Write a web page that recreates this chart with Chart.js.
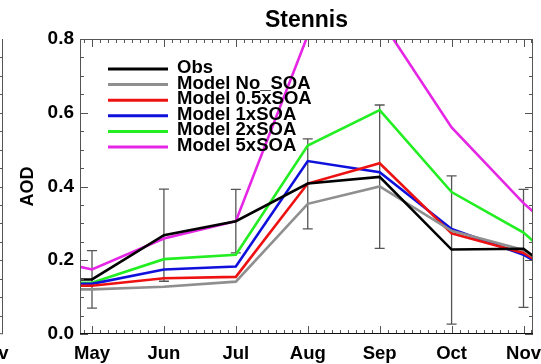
<!DOCTYPE html>
<html>
<head>
<meta charset="utf-8">
<title>Stennis AOD</title>
<script src="https://cdn.jsdelivr.net/npm/chart.js@4.4.1/dist/chart.umd.min.js"></script>
<style>
  html, body { margin: 0; padding: 0; background: #fff; overflow: hidden; }
  canvas { display: block; }
</style>
</head>
<body>
<canvas id="aodChart" width="541" height="364"></canvas>
<script>
(function () {
    "use strict";

    // ---- Data (monthly AOD, Apr..Dec; Apr/Dec only show as clipped stubs) ----
    const months      = [4, 5, 6, 7, 8, 9, 10, 11, 12];
    const monthNames  = ["Apr", "May", "Jun", "Jul", "Aug", "Sep", "Oct", "Nov", "Dec"];
    const monthTicks  = [5, 6, 7, 8, 9, 10, 11];

    const obs     = [0.148, 0.148, 0.268, 0.306, 0.408, 0.426, 0.229, 0.231, 0.087];
    const obsHigh = [null,  0.226, 0.393, 0.392, 0.529, 0.621, 0.429, 0.392, null];
    const obsLow  = [null,  0.070, 0.143, 0.220, 0.285, 0.232, 0.027, 0.072, null];

    const noSoa   = [0.121, 0.121, 0.128, 0.142, 0.353, 0.400, 0.280, 0.228, 0.092];
    const soaHalf = [0.131, 0.131, 0.151, 0.155, 0.408, 0.463, 0.273, 0.220, 0.106];
    const soa1x   = [0.136, 0.136, 0.175, 0.183, 0.469, 0.439, 0.285, 0.215, 0.100];
    const soa2x   = [0.139, 0.139, 0.203, 0.215, 0.511, 0.607, 0.385, 0.275, 0.100];
    const soa5x   = [0.217, 0.175, 0.259, 0.306, 0.810, 0.856, 0.560, 0.355, 0.180];

    const yMajor = [0, 0.2, 0.4, 0.6, 0.8];

    // ---- Colours ----
    const COLORS = {
        obs:   "#000000",
        none:  "#8f8f8f",
        half:  "#ee1111",
        one:   "#1010dd",
        two:   "#22ee22",
        five:  "#e526e5",
        frame: "#555555",
        axis:  "#111111",
        err:   "#555555",
    };

    const FONT = "'Liberation Sans', Arial, Helvetica, sans-serif";
    const TICK_SIZE = 18.5;
    const X_PAD = 8.7;

    function series(values) {
        return values.map((v, i) => ({ x: months[i], y: v }));
    }

    function line(label, values, color) {
        return {
            label: label,
            data: series(values),
            borderColor: color,
            backgroundColor: color,
            borderWidth: 2.6,
            pointRadius: 0,
            tension: 0,
            clip: 0,
        };
    }

    // error bars on the observations, drawn under the model lines
    const errorBars = {
        id: "errorBars",
        beforeDatasetsDraw(chart) {
            const { ctx, chartArea, scales: { x, y } } = chart;
            ctx.save();
            ctx.beginPath();
            ctx.rect(chartArea.left, chartArea.top, chartArea.width, chartArea.height);
            ctx.clip();
            ctx.strokeStyle = COLORS.err;
            ctx.lineWidth = 1.3;
            months.forEach((m, i) => {
                if (obsHigh[i] == null) return;
                const px = x.getPixelForValue(m);
                const hi = y.getPixelForValue(obsHigh[i]);
                const lo = y.getPixelForValue(obsLow[i]);
                ctx.beginPath();
                ctx.moveTo(px, hi); ctx.lineTo(px, lo);
                ctx.moveTo(px - 5, hi); ctx.lineTo(px + 5, hi);
                ctx.moveTo(px - 5, lo); ctx.lineTo(px + 5, lo);
                ctx.stroke();
            });
            ctx.restore();
        },
    };

    // IDL-style box: frame on all four sides with inward major/minor ticks
    const frame = {
        id: "frame",
        afterDatasetsDraw(chart) {
            const { ctx, chartArea: a, scales: { x, y } } = chart;
            ctx.save();
            ctx.lineWidth = 1;

            // y ticks (left + right), minor every 0.05
            ctx.strokeStyle = COLORS.frame;
            ctx.beginPath();
            for (let k = 0; k <= 16; k++) {
                const v = k * 0.05;
                const py = Math.round(y.getPixelForValue(v)) + 0.5;
                const len = (k % 4 === 0) ? 8 : 4;
                ctx.moveTo(a.left, py);  ctx.lineTo(a.left + len, py);
                ctx.moveTo(a.right, py); ctx.lineTo(a.right - len, py);
            }
            // x ticks (bottom + top), minor every 1/9 month
            for (let k = 0; k <= 72; k++) {
                const v = 4 + k / 9;
                if (v < x.min || v > x.max) continue;
                const px = Math.round(x.getPixelForValue(v)) + 0.5;
                const len = (k % 9 === 0) ? 8 : 4;
                ctx.moveTo(px, a.top);    ctx.lineTo(px, a.top + len);
                ctx.moveTo(px, a.bottom); ctx.lineTo(px, a.bottom - len);
            }
            ctx.stroke();

            // box
            ctx.beginPath();
            ctx.moveTo(a.left + 0.5, a.bottom);
            ctx.lineTo(a.left + 0.5, a.top + 0.5);
            ctx.lineTo(a.right - 0.5, a.top + 0.5);
            ctx.lineTo(a.right - 0.5, a.bottom);
            ctx.stroke();
            ctx.strokeStyle = COLORS.axis;
            ctx.beginPath();
            ctx.moveTo(a.left, a.bottom - 0.5);
            ctx.lineTo(a.right, a.bottom - 0.5);
            ctx.stroke();

            // edge of the neighbouring panel on the left
            ctx.strokeStyle = COLORS.frame;
            ctx.beginPath();
            ctx.moveTo(2.5, a.top); ctx.lineTo(2.5, a.bottom);
            ctx.lineTo(0, a.bottom - 0.5);
            for (let k = 1; k < 16; k++) {
                const py = Math.round(y.getPixelForValue(k * 0.05)) + 0.5;
                ctx.moveTo(2.5, py); ctx.lineTo(0, py);
            }
            ctx.stroke();
            ctx.fillStyle = "#000";
            ctx.font = "bold " + TICK_SIZE + "px " + FONT;
            ctx.textAlign = "center";
            ctx.textBaseline = "middle";
            ctx.fillText("Nov", -9, x.top + X_PAD + TICK_SIZE * 0.6);

            // title
            ctx.font = "bold 23px " + FONT;
            ctx.fillText("Stennis", (a.left + a.right) / 2, 21);
            ctx.restore();
        },
    };

    // legend in the upper-left of the plot
    const boxLegend = {
        id: "boxLegend",
        afterDraw(chart) {
            const { ctx, chartArea: a } = chart;
            ctx.save();
            ctx.font = "bold 18.5px " + FONT;
            ctx.textAlign = "left";
            ctx.textBaseline = "middle";
            chart.data.datasets.forEach((ds, i) => {
                const ly = a.top + 30 + i * 15.6;
                ctx.strokeStyle = ds.borderColor;
                ctx.lineWidth = 3;
                ctx.beginPath();
                ctx.moveTo(a.left + 28, ly);
                ctx.lineTo(a.left + 88, ly);
                ctx.stroke();
                ctx.fillStyle = "#000";
                ctx.fillText(ds.label, a.left + 97, ly - 1);
            });
            ctx.restore();
        },
    };

    new Chart(document.getElementById("aodChart"), {
        type: "line",
        data: {
            datasets: [
                line("Obs",           obs,     COLORS.obs),
                line("Model No_SOA",  noSoa,   COLORS.none),
                line("Model 0.5xSOA", soaHalf, COLORS.half),
                line("Model 1xSOA",   soa1x,   COLORS.one),
                line("Model 2xSOA",   soa2x,   COLORS.two),
                line("Model 5xSOA",   soa5x,   COLORS.five),
            ],
        },
        options: {
            responsive: false,
            animation: false,
            layout: { autoPadding: false, padding: { top: 39, right: 8, left: 0, bottom: 0 } },
            plugins: {
                legend: { display: false },
                title: { display: false },
                tooltip: { enabled: false },
            },
            scales: {
                x: {
                    type: "linear",
                    min: 4.833,
                    max: 11.132,
                    grid: { display: false, drawTicks: false },
                    border: { display: false },
                    afterBuildTicks: (s) => { s.ticks = monthTicks.map(v => ({ value: v })); },
                    afterFit: (s) => {
                        s.height = 30;
                        // let the last month label run off the edge like the original
                        s.paddingLeft = 0;
                        s.paddingRight = 0;
                    },
                    ticks: {
                        padding: X_PAD,
                        color: "#000",
                        font: { family: FONT, size: TICK_SIZE, weight: "bold" },
                        callback: (v) => monthNames[months.indexOf(v)],
                    },
                },
                y: {
                    min: 0,
                    max: 0.8,
                    grid: { display: false, drawTicks: false },
                    border: { display: false },
                    afterBuildTicks: (s) => { s.ticks = yMajor.map(v => ({ value: v })); },
                    afterFit: (s) => { s.width = 80; s.paddingTop = 0; s.paddingBottom = 0; },
                    ticks: {
                        padding: 6,
                        color: "#000",
                        font: { family: FONT, size: 19, weight: "bold" },
                        callback: (v) => v.toFixed(1),
                    },
                    title: {
                        display: true,
                        text: "AOD",
                        color: "#000",
                        font: { family: FONT, size: 18, weight: "bold" },
                        padding: { top: 17, bottom: 0 },
                    },
                },
            },
        },
        plugins: [errorBars, frame, boxLegend],
    });
})();
</script>
</body>
</html>
